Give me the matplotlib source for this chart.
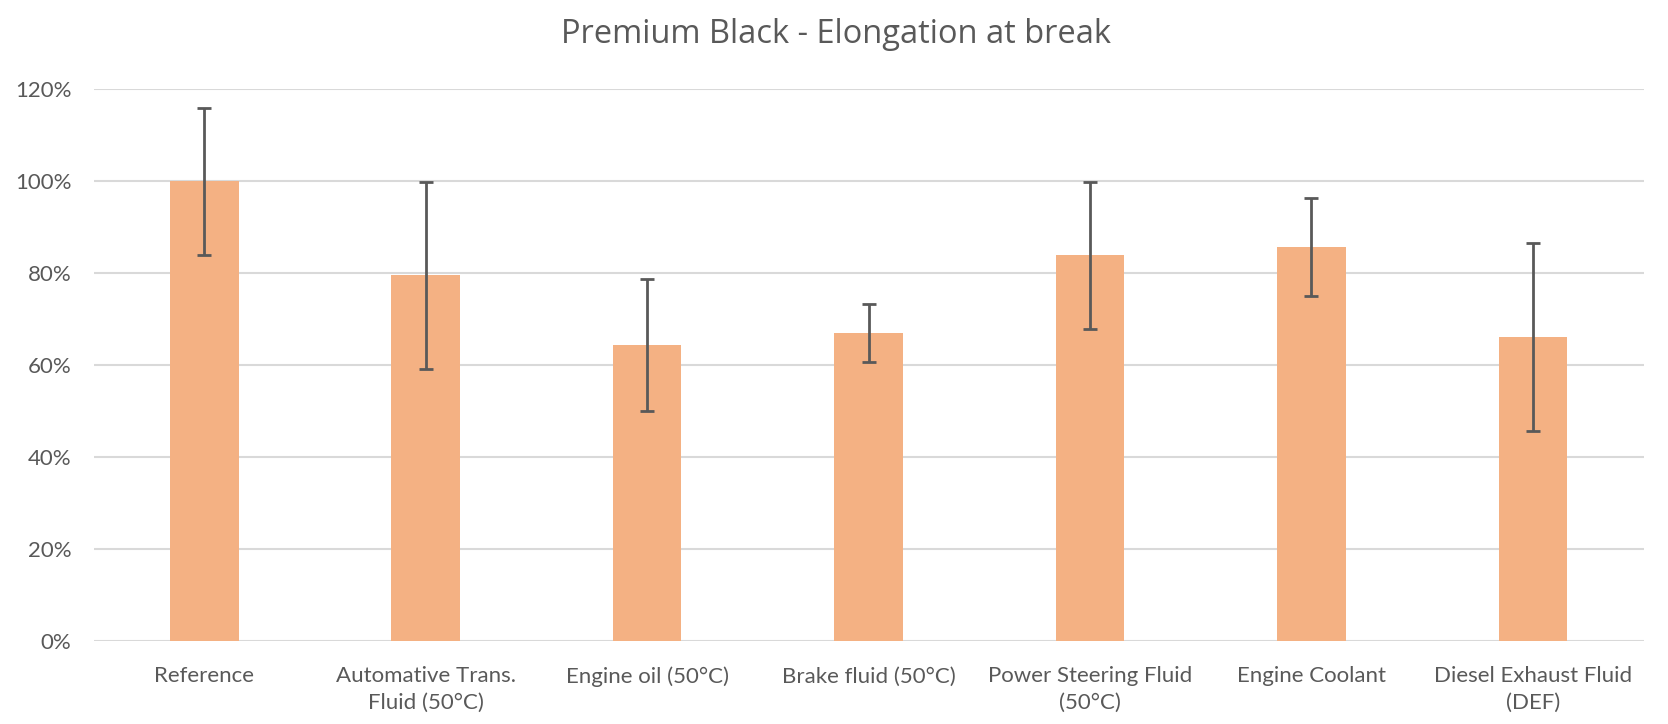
import matplotlib
matplotlib.use("Agg")
import matplotlib.pyplot as plt
from matplotlib.ticker import FuncFormatter

categories = ["Reference", "Automative Trans.\nFluid (50°C)", "Engine oil (50°C)",
              "Brake fluid (50°C)", "Power Steering Fluid\n(50°C)", "Engine Coolant",
              "Diesel Exhaust Fluid\n(DEF)"]
values = [100, 79.6, 64.4, 67.0, 83.9, 85.7, 66.2]
errors = [16.0, 20.3, 14.3, 6.3, 16.0, 10.7, 20.4]
yticks = [0, 20, 40, 60, 80, 100, 120]

text_color = "#595959"
fig = plt.figure(figsize=(16.68, 7.24), dpi=100)
ax = fig.add_axes([0.0561, 0.114, 0.9293, 0.7625])
x = range(len(categories))
ax.bar(x, values, width=0.31, color="#F4B183", zorder=2,
       yerr=errors, error_kw=dict(ecolor="#595959", elinewidth=2, capsize=5, capthick=2, zorder=3))
ax.set_xlim(-0.5, len(categories) - 0.5)
ax.set_ylim(0, 120)
ax.set_yticks(yticks)
ax.yaxis.set_major_formatter(FuncFormatter(lambda v, p: f"{v:.0f}%"))
ax.grid(axis="y", color="#D9D9D9", linewidth=1.5, zorder=0)
for s in ax.spines.values():
    s.set_visible(False)
ax.tick_params(axis="both", length=0, colors=text_color)
ax.tick_params(axis="y", pad=16, labelsize=16)
ax.tick_params(axis="x", pad=18, labelsize=16)
ax.set_xticks(list(x))
ax.set_xticklabels(categories, linespacing=1.4)
for lab in ax.get_xticklabels() + ax.get_yticklabels():
    lab.set_family("Lato")
    lab.set_color(text_color)
fig.text(0.501, 0.953, "Premium Black - Elongation at break", ha="center", va="center",
         fontsize=23.5, color=text_color, family="Open Sans")
fig.savefig("out.png", dpi=100, facecolor="white")
